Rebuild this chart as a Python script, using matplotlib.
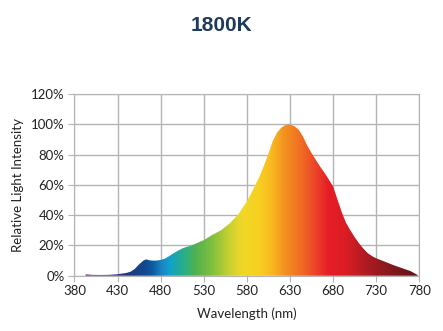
import matplotlib
matplotlib.use("Agg")
from matplotlib import pyplot as plt
from matplotlib.colors import LinearSegmentedColormap
import numpy as np

# spectrum (nm, % relative intensity)
wavelength = [393, 400, 410, 420, 430, 440, 445, 450, 455, 460, 463, 467, 470, 475,
              480, 485, 490, 495, 500, 505, 510, 515, 520, 530, 540, 550, 560, 570,
              580, 590, 595, 600, 605, 610, 615, 620, 625, 630, 635, 640, 645, 650,
              655, 660, 665, 670, 675, 680, 685, 690, 695, 700, 705, 710, 715, 720,
              725, 730, 740, 750, 760, 770, 778]
intensity = [1.0, 0.6, 0.5, 0.6, 1.0, 1.8, 2.6, 4.5, 7.5, 10.0, 10.8, 10.2, 10.0, 10.0,
             10.4, 11.3, 13.0, 14.8, 16.5, 18.0, 19.0, 19.8, 21.0, 23.5, 27.0, 30.0, 34.5, 40.5,
             49.0, 60.0, 66.0, 73.0, 80.5, 89.0, 94.5, 97.8, 99.6, 99.8, 98.8, 96.5, 92.0, 86.0,
             81.0, 76.5, 72.0, 68.0, 63.5, 59.0, 50.5, 42.0, 35.0, 30.0, 25.5, 21.5, 18.0, 15.0,
             13.0, 11.5, 9.3, 7.0, 5.0, 3.0, 0.5]

x_ticks = [380, 430, 480, 530, 580, 630, 680, 730, 780]
y_ticks = [0, 20, 40, 60, 80, 100, 120]
title = "1800K"

# spectral colour stops for the fill
stops = [(380, "#8a3a8a"), (420, "#5a3a8a"), (440, "#1c3a80"), (460, "#15468c"),
         (470, "#0a5aa0"), (480, "#1a80c0"), (490, "#10a0d0"), (500, "#20a8a0"),
         (510, "#30b080"), (520, "#50b050"), (540, "#80c040"), (560, "#c8d030"),
         (575, "#f0d828"), (595, "#f8d020"), (610, "#f8b820"), (625, "#f39020"),
         (645, "#f06a24"), (660, "#ec4428"), (675, "#e61e26"), (695, "#dc1c24"),
         (720, "#ac1c22"), (750, "#82181c"), (780, "#601418")]
cmap = LinearSegmentedColormap.from_list(
    "spec", [((w - 380) / 400, c) for w, c in stops])

fig = plt.figure(figsize=(4.43, 3.31), dpi=100)
ax = fig.add_axes([0.168, 0.167, 0.7785, 0.549])

poly = ax.fill_between(wavelength, intensity, 0, color="none", lw=0)
grad = np.linspace(0, 1, 800).reshape(1, -1)
img = ax.imshow(grad, cmap=cmap, extent=[380, 780, 0, 120], aspect="auto",
                origin="lower", zorder=2)
img.set_clip_path(poly.get_paths()[0], transform=ax.transData)

ax.set_xlim(380, 780)
ax.set_ylim(0, 120)
ax.set_xticks(x_ticks)
ax.set_yticks(y_ticks)
ax.set_yticklabels([str(v) + "%" for v in y_ticks])
ax.grid(True, color="#b4b4b4", lw=1.0, zorder=1)
ax.set_axisbelow(True)
for s in ax.spines.values():
    s.set_color("#b4b4b4")
ax.tick_params(colors="#b4b4b4", labelcolor="#222222", length=4, labelsize=9.5, pad=3)
for lab in ax.get_xticklabels() + ax.get_yticklabels():
    lab.set_family("Lato")

ax.set_xlabel("Wavelength (nm)", family="Lato", fontsize=9.5, color="#222222", labelpad=7)
ax.set_ylabel("Relative Light Intensity", family="Lato", fontsize=9.5, color="#222222", labelpad=5)

fig.text(0.5, 0.922, title, ha="center", va="center", family="Liberation Sans",
         fontweight="bold", fontsize=15, color="#1f3b5c")

fig.savefig("out.png", dpi=100)
